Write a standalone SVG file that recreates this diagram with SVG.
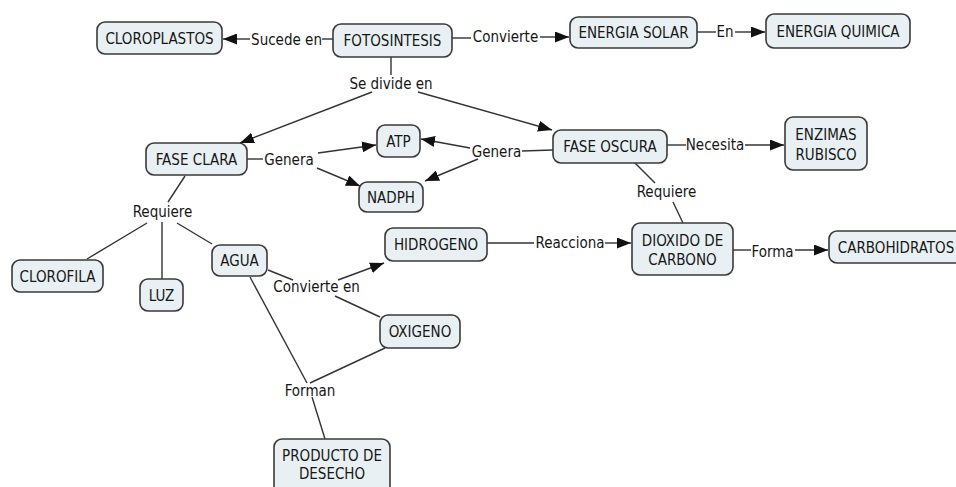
<svg xmlns="http://www.w3.org/2000/svg" width="956" height="487" viewBox="0 0 956 487">
  <style>
    .node rect { fill: #e9f0f3; stroke: #3a3a3a; stroke-width: 1.6; }
    text { font-family: "DejaVu Sans Condensed", "DejaVu Sans", sans-serif; font-size: 15px; fill: #161616; text-anchor: middle; }
    .links line { stroke: #333; stroke-width: 1.4; fill: none; }
    .links line.arr { marker-end: url(#head); }
  </style>
  <defs>
    <marker id="head" viewBox="0 0 14 11" refX="14" refY="5.5" markerWidth="14" markerHeight="11" markerUnits="userSpaceOnUse" orient="auto">
      <path d="M0,0 L14,5.5 L0,11 Z" fill="#111"/>
    </marker>
  </defs>
  <rect width="956" height="487" fill="#ffffff"/>

  <!-- connectors and linking phrases -->
  <g id="connectors" class="links">
    <line x1="333" y1="39" x2="322" y2="39"/>
    <line class="arr" x1="250" y1="39" x2="223" y2="39"/>
    <line x1="452" y1="38" x2="471" y2="38"/>
    <line class="arr" x1="540" y1="37" x2="569" y2="37"/>
    <line x1="697" y1="32" x2="716" y2="32"/>
    <line class="arr" x1="735" y1="32" x2="765" y2="32"/>
    <line x1="391" y1="57" x2="391" y2="75"/>
    <line class="arr" x1="372" y1="92" x2="240" y2="143"/>
    <line class="arr" x1="418" y1="92" x2="552" y2="130"/>
    <line x1="247" y1="159" x2="263" y2="159"/>
    <line class="arr" x1="318" y1="153" x2="376" y2="145"/>
    <line class="arr" x1="317" y1="168" x2="360" y2="186"/>
    <line x1="553" y1="150" x2="522" y2="151"/>
    <line class="arr" x1="470" y1="148" x2="421" y2="139"/>
    <line class="arr" x1="478" y1="159" x2="425" y2="181"/>
    <line x1="667" y1="145" x2="686" y2="145"/>
    <line class="arr" x1="745" y1="145" x2="784" y2="145"/>
    <line x1="635" y1="163" x2="655" y2="183"/>
    <line x1="673" y1="202" x2="683" y2="223"/>
    <line x1="185" y1="176" x2="168" y2="202"/>
    <line x1="147" y1="223" x2="87" y2="259"/>
    <line x1="162" y1="222" x2="162" y2="279"/>
    <line x1="177" y1="223" x2="212" y2="244"/>
    <line x1="268" y1="270" x2="293" y2="280"/>
    <line class="arr" x1="338" y1="280" x2="384" y2="263"/>
    <line x1="335" y1="296" x2="380" y2="317"/>
    <line x1="487" y1="243" x2="534" y2="243"/>
    <line class="arr" x1="605" y1="243" x2="631" y2="243"/>
    <line x1="733" y1="250" x2="751" y2="250"/>
    <line class="arr" x1="795" y1="250" x2="828" y2="250"/>
    <line x1="250" y1="277" x2="307" y2="383"/>
    <line x1="385" y1="348" x2="310" y2="383"/>
    <line x1="312" y1="397" x2="325" y2="439"/>

    <text x="286.5" y="45">Sucede en</text>
    <text x="505.5" y="42">Convierte</text>
    <text x="725" y="37">En</text>
    <text x="391" y="89">Se divide en</text>
    <text x="289" y="165">Genera</text>
    <text x="496.5" y="157">Genera</text>
    <text x="715" y="150">Necesita</text>
    <text x="162.5" y="217">Requiere</text>
    <text x="666.5" y="197">Requiere</text>
    <text x="570" y="248">Reacciona</text>
    <text x="772.5" y="257">Forma</text>
    <text x="316.5" y="292">Convierte en</text>
    <text x="310" y="396">Forman</text>
  </g>

  <!-- concepts -->
  <g id="cloroplastos" class="node"><rect x="97" y="22" width="125" height="32" rx="8"/><text x="159.5" y="43.5">CLOROPLASTOS</text></g>
  <g id="fotosintesis" class="node"><rect x="333" y="24" width="119" height="33" rx="8"/><text x="392.5" y="46">FOTOSINTESIS</text></g>
  <g id="energia-solar" class="node"><rect x="570" y="17" width="127" height="31" rx="8"/><text x="633.5" y="38">ENERGIA SOLAR</text></g>
  <g id="energia-quimica" class="node"><rect x="766" y="14" width="144" height="34" rx="8"/><text x="838" y="36.5">ENERGIA QUIMICA</text></g>
  <g id="fase-clara" class="node"><rect x="146" y="143" width="101" height="32" rx="8"/><text x="196.5" y="164.5">FASE CLARA</text></g>
  <g id="atp" class="node"><rect x="377" y="125" width="43" height="32" rx="8"/><text x="398.5" y="146.5">ATP</text></g>
  <g id="nadph" class="node"><rect x="359" y="182" width="64" height="30" rx="8"/><text x="391" y="202.5">NADPH</text></g>
  <g id="fase-oscura" class="node"><rect x="553" y="130" width="114" height="33" rx="8"/><text x="610" y="152">FASE OSCURA</text></g>
  <g id="enzimas-rubisco" class="node"><rect x="785" y="117" width="82" height="53" rx="8"/><text x="826" y="140">ENZIMAS</text><text x="826" y="160">RUBISCO</text></g>
  <g id="clorofila" class="node"><rect x="12" y="260" width="91" height="32" rx="8"/><text x="57.5" y="281.5">CLOROFILA</text></g>
  <g id="luz" class="node"><rect x="140" y="279" width="43" height="32" rx="8"/><text x="161.5" y="300.5">LUZ</text></g>
  <g id="agua" class="node"><rect x="212" y="245" width="55" height="31" rx="8"/><text x="239.5" y="266">AGUA</text></g>
  <g id="hidrogeno" class="node"><rect x="385" y="228" width="102" height="33" rx="8"/><text x="436" y="250">HIDROGENO</text></g>
  <g id="oxigeno" class="node"><rect x="380" y="315" width="80" height="33" rx="8"/><text x="420" y="337">OXIGENO</text></g>
  <g id="dioxido-de-carbono" class="node"><rect x="632" y="223" width="101" height="52" rx="8"/><text x="682.5" y="245.5">DIOXIDO DE</text><text x="682.5" y="265">CARBONO</text></g>
  <g id="carbohidratos" class="node"><rect x="829" y="231" width="134" height="32" rx="8"/><text x="896" y="252.5">CARBOHIDRATOS</text></g>
  <g id="producto-de-desecho" class="node"><rect x="274" y="439" width="116" height="56" rx="8"/><text x="332" y="461">PRODUCTO DE</text><text x="332" y="479">DESECHO</text></g>
</svg>
